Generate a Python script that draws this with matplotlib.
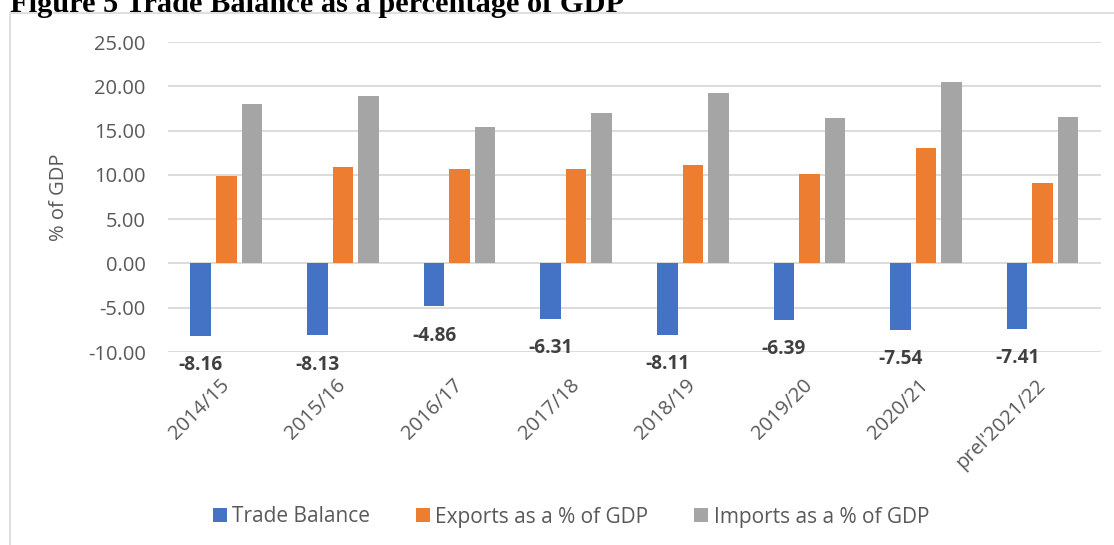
import numpy as np
import matplotlib.pyplot as plt
from matplotlib.patches import Rectangle

plt.rcParams['font.family'] = ['Open Sans', 'DejaVu Sans']

years = ['2014/15', '2015/16', '2016/17', '2017/18', '2018/19', '2019/20', '2020/21', "prel'2021/22"]
trade_balance = [-8.16, -8.13, -4.86, -6.31, -8.11, -6.39, -7.54, -7.41]
exports_gdp = [9.89, 10.87, 10.64, 10.67, 11.12, 10.08, 13.00, 9.10]
imports_gdp = [17.98, 18.95, 15.43, 16.97, 19.25, 16.44, 20.53, 16.48]

series_names = ['Trade Balance', 'Exports as a % of GDP', 'Imports as a % of GDP']
colors = ['#4472C4', '#ED7D31', '#A5A5A5']

fig = plt.figure(figsize=(11.14, 5.45), dpi=100)
ax = fig.add_axes([0.1508, 0.3541, 0.8375, 0.5688])

# light frame round the chart area
fig.patches.append(Rectangle((10 / 1114, -0.02), 1.1, 1 - 13 / 545 + 0.02,
                             transform=fig.transFigure, fill=False,
                             edgecolor='#D9D9D9', linewidth=1.2))

# caption, partly cut off at the top edge
fig.text(10 / 1114, 1 - 11.5 / 545, 'Figure 5 Trade Balance as a percentage of GDP',
         family='Liberation Serif', weight='bold', fontsize=21.9,
         ha='left', va='baseline', color='black')

x = np.arange(len(years))
step = 0.219
width = 0.176
bars_tb = ax.bar(x - step, trade_balance, width, color=colors[0], label=series_names[0], zorder=3)
ax.bar(x, exports_gdp, width, color=colors[1], label=series_names[1], zorder=3)
ax.bar(x + step, imports_gdp, width, color=colors[2], label=series_names[2], zorder=3)

# value labels under the trade balance bars
for rect, v in zip(bars_tb, trade_balance):
    ax.annotate('%.2f' % v, (rect.get_x() + rect.get_width() / 2, v),
                xytext=(0, -21), textcoords='offset points',
                ha='center', va='center', fontsize=13.7, weight='bold',
                color='#404040', zorder=4)

ax.set_xlim(-0.5, len(years) - 0.5)
ax.set_ylim(-10, 25)
ax.set_yticks(np.arange(-10, 26, 5))
ax.set_yticklabels(['%.2f' % t for t in np.arange(-10, 26, 5)])
ax.grid(axis='y', color='#D9D9D9', linewidth=1.3, zorder=0)
ax.set_axisbelow(True)
for s in ax.spines.values():
    s.set_visible(False)
ax.tick_params(axis='both', length=0, labelsize=14.5, labelcolor='#595959')
ax.tick_params(axis='y', pad=16)
ax.tick_params(axis='x', pad=22)

ax.set_xticks(x)
ax.set_xticklabels(years, rotation=45, ha='right', va='center', rotation_mode='anchor')

ax.set_ylabel('% of GDP', fontsize=14.5, color='#595959')
ax.yaxis.set_label_coords(-0.106, 0.5)

fig.legend(loc='center', bbox_to_anchor=(571 / 1114, 1 - 517 / 545), ncol=3,
           frameon=False, fontsize=15, labelcolor='#595959',
           handlelength=0.68, handleheight=0.68, handletextpad=0.25,
           columnspacing=2.2)

fig.savefig('out.png', dpi=100, facecolor='white')
